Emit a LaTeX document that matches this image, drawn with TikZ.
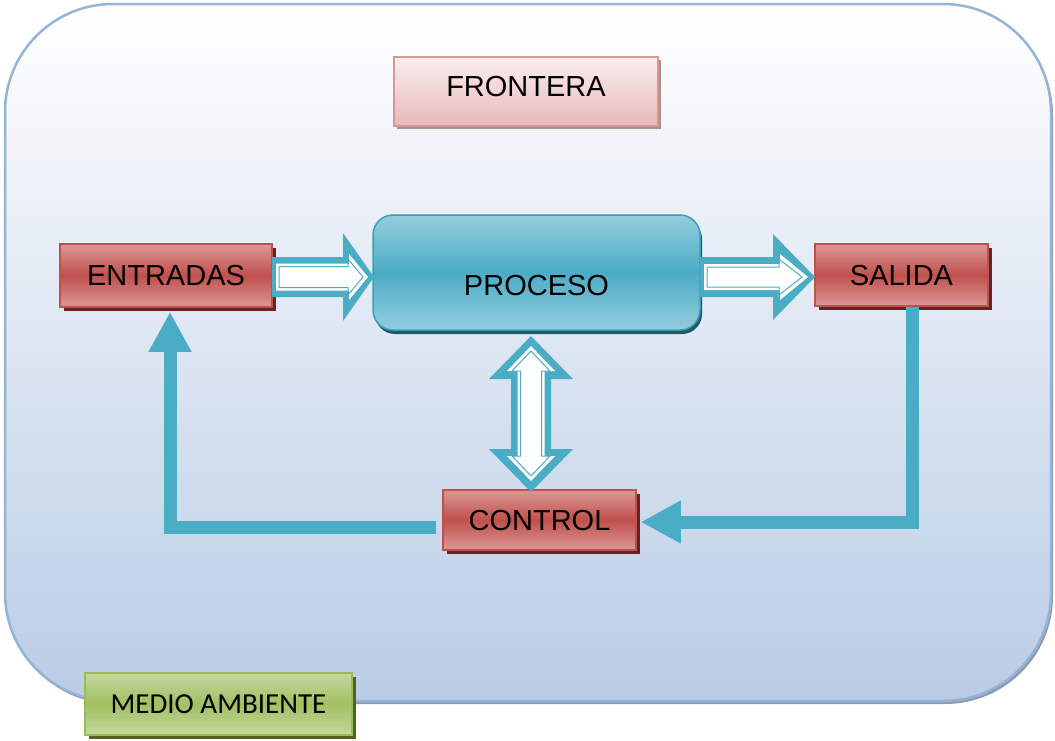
\documentclass[tikz,border=0pt]{standalone}
\usepackage{fontspec}
\setmainfont{Liberation Sans}
\newfontfamily\calibfont{Carlito}
\usetikzlibrary{arrows.meta,shadows}
\definecolor{tealA}{HTML}{4BACC6}
\definecolor{tealL}{HTML}{93CDDD}
\definecolor{tealB}{HTML}{3E9DB7}
\definecolor{tealS}{HTML}{215967}
\definecolor{redM}{HTML}{C0504D}
\definecolor{redL}{HTML}{DC9896}
\definecolor{redS}{HTML}{632523}
\definecolor{pinkT}{HTML}{FBEEEE}
\definecolor{pinkB}{HTML}{E6B9B8}
\definecolor{pinkD}{HTML}{D99694}
\definecolor{pinkS}{HTML}{A99090}
\definecolor{grnL}{HTML}{C4D8A0}
\definecolor{grnM}{HTML}{A2C062}
\definecolor{grnB}{HTML}{9BBB59}
\definecolor{grnS}{HTML}{4F6228}
\definecolor{frameB}{HTML}{94B3D7}
\definecolor{frameF}{HTML}{B9CCE5}
\definecolor{frameS}{HTML}{8C9AAE}
\newcommand\harrow[7]{%
  \path[#1] (#2,{#4-#5}) -- ({#3-#7},{#4-#5}) -- ({#3-#7},{#4-#6}) -- (#3,#4)
   -- ({#3-#7},{#4+#6}) -- ({#3-#7},{#4+#5}) -- (#2,{#4+#5}) -- cycle;}
\newcommand\vdarrow[7]{%
  \path[#1] (#2,#3) -- ({#2+#6},{#3+#7}) -- ({#2+#5},{#3+#7}) -- ({#2+#5},{#4-#7})
   -- ({#2+#6},{#4-#7}) -- (#2,#4) -- ({#2-#6},{#4-#7}) -- ({#2-#5},{#4-#7})
   -- ({#2-#5},{#3+#7}) -- ({#2-#6},{#3+#7}) -- cycle;}
\tikzset{
  box/.style={draw, line width=1.5pt, inner sep=0pt, text height=20pt, text depth=0pt,
    font=\fontsize{29}{34}\selectfont},
  redbox/.style={box, draw=redM, top color=redL, bottom color=redL, middle color=redM,
    general shadow={fill=redS, shadow xshift=4pt, shadow yshift=-4pt}},
  procbox/.style={box, draw=tealB, rounded corners=20pt, top color=tealL, bottom color=tealL,
    middle color=tealA, general shadow={fill=tealS, shadow xshift=2pt, shadow yshift=-4pt}},
  frontbox/.style={box, draw=pinkD, top color=pinkT, bottom color=pinkB, text depth=10pt,
    general shadow={fill=pinkS, shadow xshift=3pt, shadow yshift=-3pt}},
  envbox/.style={box, draw=grnB, top color=grnL, bottom color=grnL, middle color=grnM,
    text height=18.7pt, font=\calibfont\fontsize{29}{34}\selectfont,
    general shadow={fill=grnS, shadow xshift=4pt, shadow yshift=-4pt}},
  fb/.style={draw=tealA, line width=13pt, line join=miter,
    -{Triangle[length=40pt,width=40pt]}},
  frame/.style={draw=frameB, line width=2.5pt, rounded corners=108pt,
    top color=white, bottom color=frameF,
    general shadow={fill=frameS, shadow xshift=2pt, shadow yshift=-3pt}}
}
\begin{document}
\begin{tikzpicture}[x=1pt,y=-1pt]
\useasboundingbox (0,0) rectangle (1055,740);
% boundary / environment
\path[frame] (5,4) rectangle (1051,701);
% nodes
\node[frontbox, minimum width=264pt, minimum height=69pt] (frontera) at (526,91.5) {FRONTERA};
\node[redbox, minimum width=212pt, minimum height=63pt] (entradas) at (166,275.5) {ENTRADAS};
\node[procbox, minimum width=327pt, minimum height=115pt, text height=46pt] (proceso) at (536.5,272.5) {PROCESO};
\node[redbox, minimum width=173pt, minimum height=62pt] (salida) at (901.5,275) {SALIDA};
\node[redbox, minimum width=193pt, minimum height=60pt] (control) at (539.5,520) {CONTROL};
% block arrows
\harrow{fill=tealA}{272}{374}{277}{20}{44}{31}
\harrow{fill=white}{276}{368}{277}{13.5}{23}{19}
\harrow{draw=tealA,line width=1pt}{279}{363}{277}{10.5}{18}{15}
\harrow{fill=tealA}{700}{815}{277}{20}{43}{42}
\harrow{fill=white}{704}{808}{277}{13}{23}{28}
\harrow{draw=tealA,line width=1pt}{707}{802}{277}{10}{18}{23}
\vdarrow{fill=tealA}{531}{336}{492}{20}{42}{43}
\vdarrow{fill=white}{531}{346}{481}{13.5}{24}{25}
\vdarrow{draw=tealA,line width=1pt}{531}{351}{476}{10.5}{19}{20}
% feedback
\draw[fb] ([xshift=10.5pt]salida.south) |- ([xshift=4pt,yshift=-2pt]control.east);
\draw[fb] ([xshift=-6pt,yshift=-7pt]control.west) -| ([xshift=4pt,yshift=-4pt]entradas.south);
% environment label
\node[envbox, minimum width=267pt, minimum height=62pt] (medio) at (218.5,704) {MEDIO AMBIENTE};
\end{tikzpicture}
\end{document}
